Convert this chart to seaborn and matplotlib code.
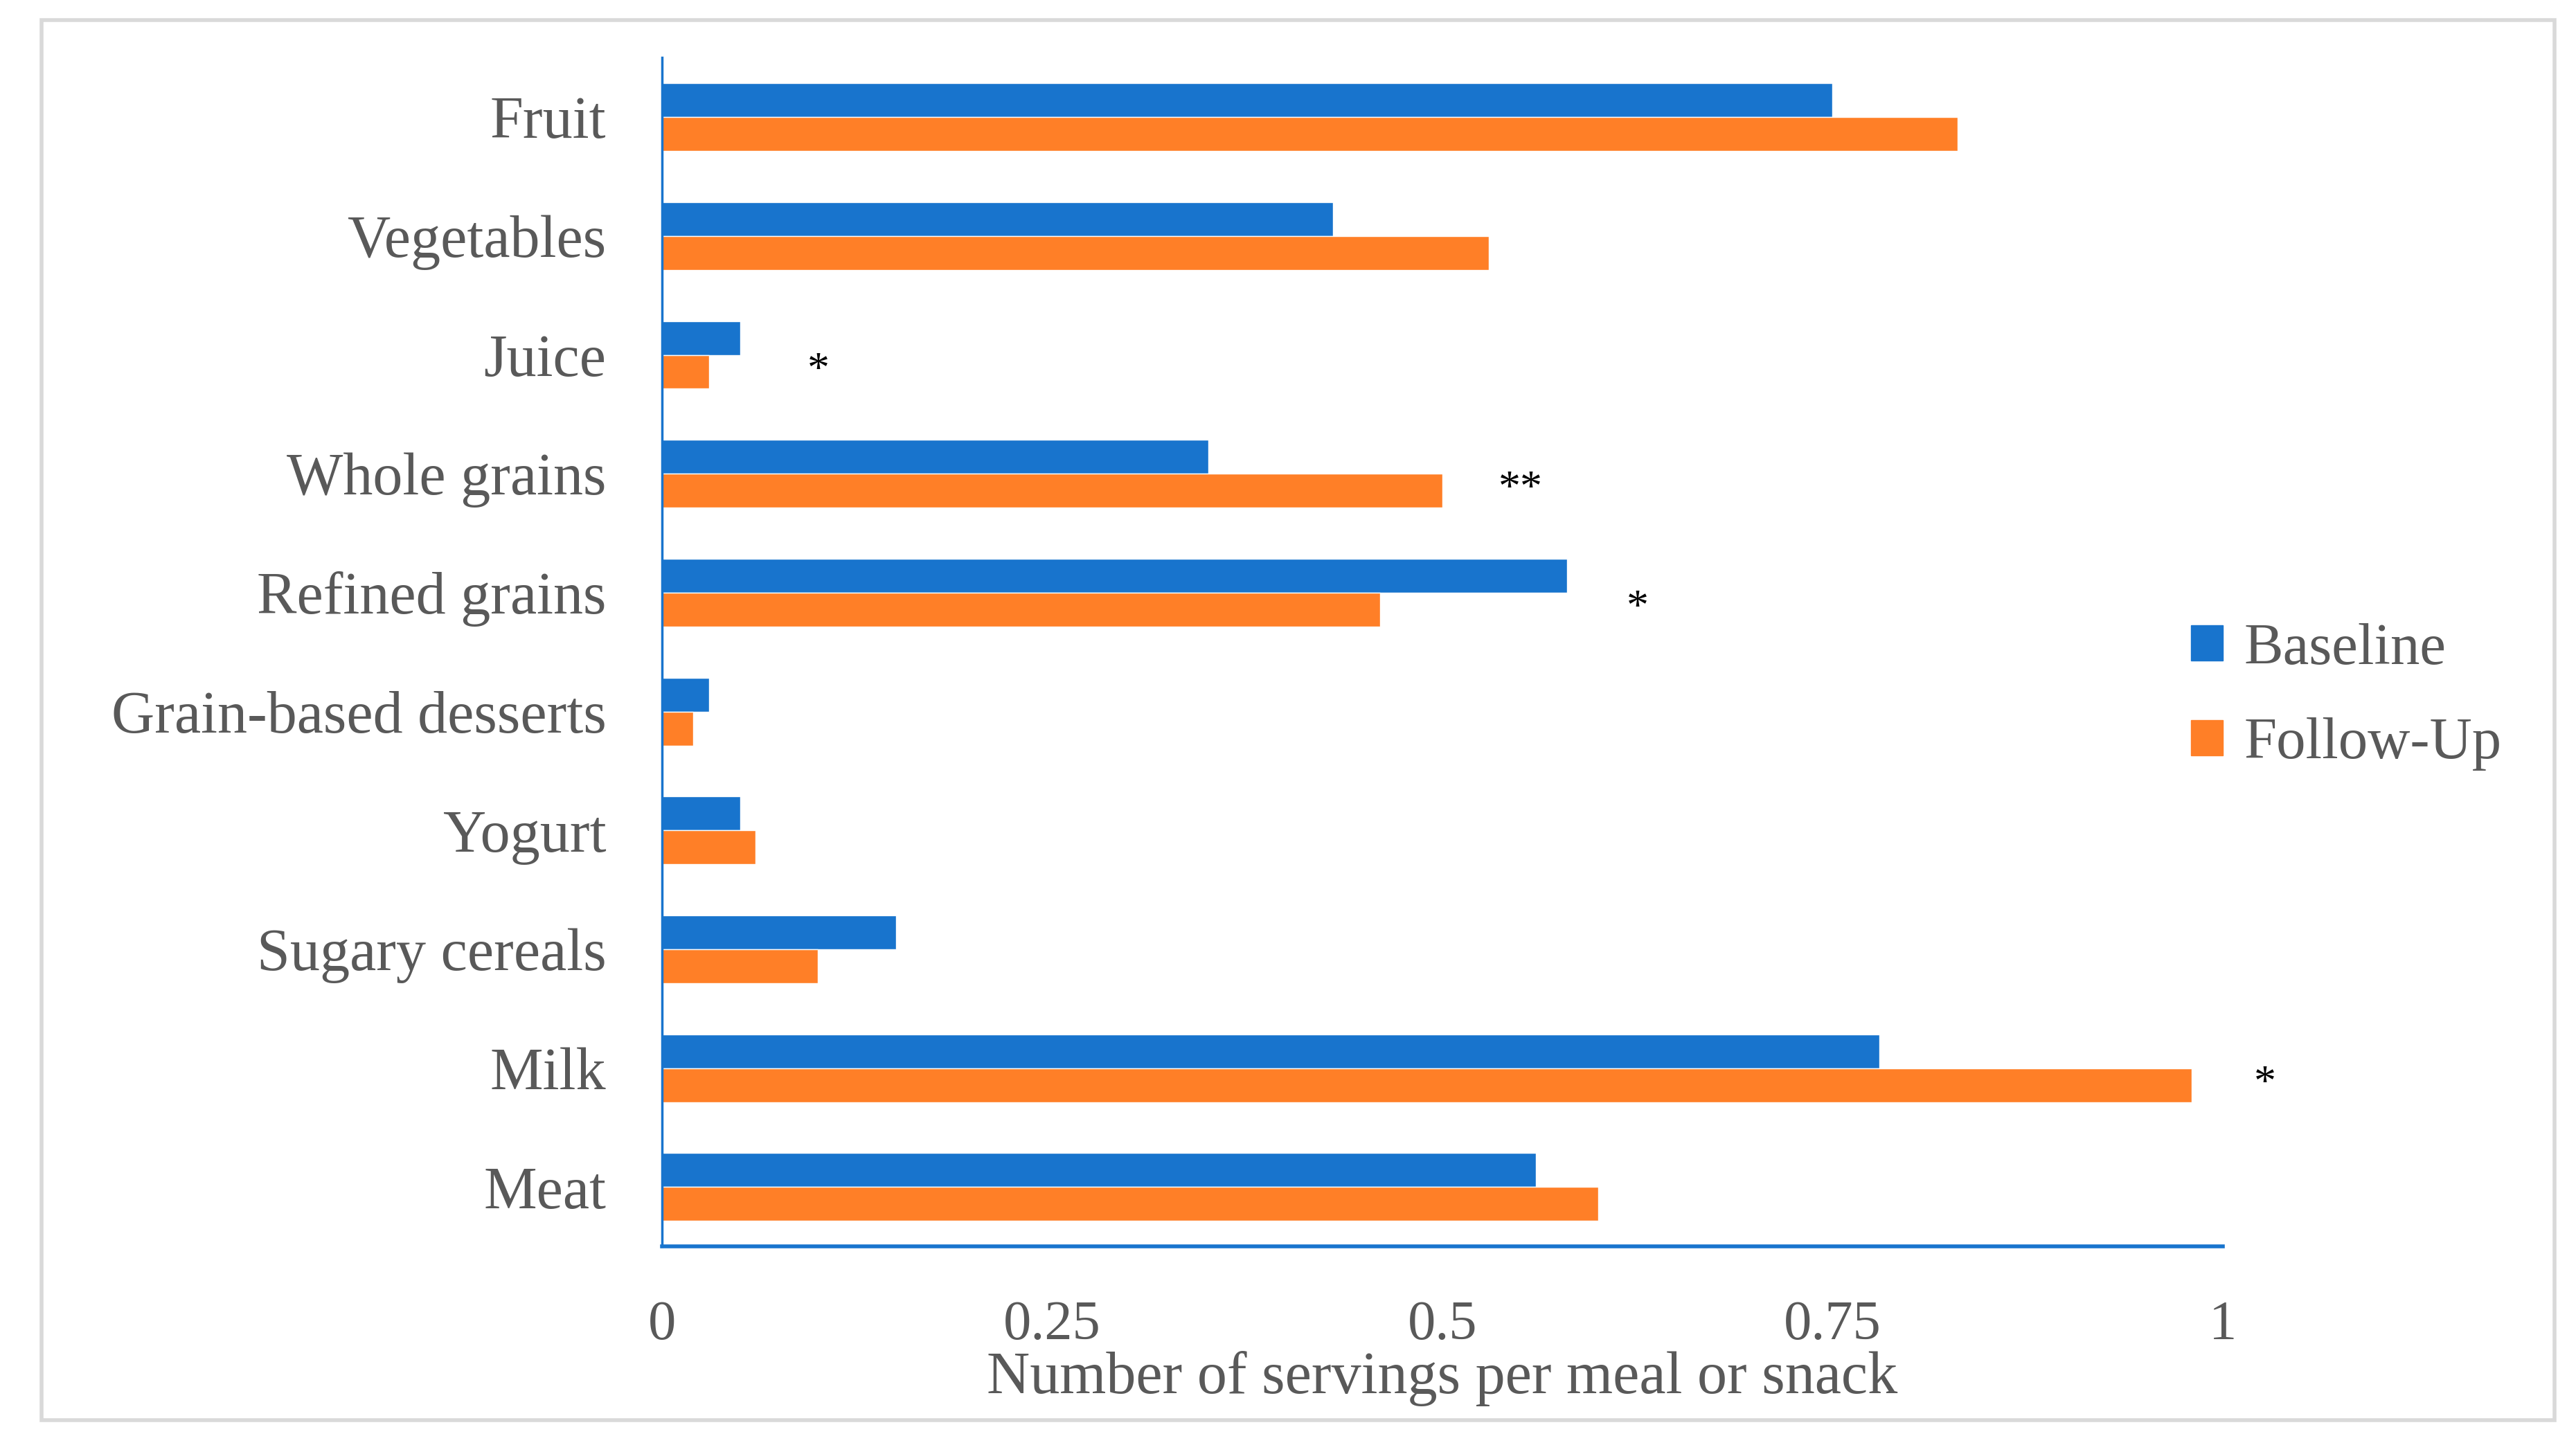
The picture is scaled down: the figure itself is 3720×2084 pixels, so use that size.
import matplotlib
matplotlib.use("Agg")
import matplotlib.pyplot as plt
import matplotlib.patches as mpatches
import pandas as pd
import seaborn as sns

# Data
foods = ['Fruit', 'Vegetables', 'Juice', 'Whole grains', 'Refined grains',
         'Grain-based desserts', 'Yogurt', 'Sugary cereals', 'Milk', 'Meat']
baseline = [0.75, 0.43, 0.05, 0.35, 0.58, 0.03, 0.05, 0.15, 0.78, 0.56]
follow_up = [0.83, 0.53, 0.03, 0.50, 0.46, 0.02, 0.06, 0.10, 0.98, 0.60]
series_names = ['Baseline', 'Follow-Up']

# significance markers: category, marker, x position
sig_foods = ['Juice', 'Whole grains', 'Refined grains', 'Milk']
sig_marks = ['*', '**', '*', '*']
sig_x = [0.10, 0.55, 0.625, 1.027]

x_ticks = [0, 0.25, 0.5, 0.75, 1]
x_tick_labels = ['0', '0.25', '0.5', '0.75', '1']

blue = '#1874CD'
orange = '#FF7F27'
text_gray = '#595959'

df = pd.DataFrame({
    'food': foods * 2,
    'value': baseline + follow_up,
    'time': [series_names[0]] * len(foods) + [series_names[1]] * len(foods),
})

sns.set_style('white')
plt.rcParams['font.family'] = ['Liberation Serif', 'DejaVu Serif']

fig = plt.figure(figsize=(37.2, 20.84), dpi=100)
ax = fig.add_axes([0.257, 0.1362, 0.6058, 0.8238])

sns.barplot(data=df, y='food', x='value', hue='time', order=foods,
            hue_order=series_names, palette=[blue, orange], width=0.57,
            gap=0, saturation=1, orient='h', ax=ax, legend=False)

ax.set_xlim(0, 1)
ax.set_ylim(len(foods) - 0.5, -0.5)
ax.set_xticks(x_ticks)
ax.set_xticklabels(x_tick_labels)
ax.set_ylabel('')
ax.set_xlabel('Number of servings per meal or snack', fontsize=62,
              color=text_gray, labelpad=0)

for s in ['top', 'right']:
    ax.spines[s].set_visible(False)
ax.spines['left'].set_color(blue)
ax.spines['left'].set_linewidth(2.5)
ax.spines['bottom'].set_color(blue)
ax.spines['bottom'].set_linewidth(4)

ax.tick_params(axis='x', direction='in', length=16, width=2, color=blue,
               pad=56, labelsize=58, labelcolor=text_gray)
ax.tick_params(axis='y', length=0, pad=58, labelsize=62, labelcolor=text_gray)

# significance asterisks at the follow-up bar level
for food, mark, xpos in zip(sig_foods, sig_marks, sig_x):
    yi = foods.index(food) + 0.14
    ax.text(xpos, yi, mark, fontsize=46, color='black', ha='center', va='center')

# legend on the right
handles = [mpatches.Patch(color=blue, label=series_names[0]),
           mpatches.Patch(color=orange, label=series_names[1])]
fig.legend(handles=handles, loc='center left', bbox_to_anchor=(0.830, 0.517),
           frameon=False, fontsize=61, labelcolor=text_gray,
           handlelength=0.55, handleheight=0.55, handletextpad=0.35,
           labelspacing=0.7)

# outer light gray frame
frame = mpatches.Rectangle((25 / 1560, 1 - 860 / 874), (1547 - 25) / 1560,
                           (860 - 12) / 874, transform=fig.transFigure,
                           fill=False, edgecolor='#d9d9d9', linewidth=4)
fig.patches.append(frame)

fig.savefig('out.png', dpi=100)
